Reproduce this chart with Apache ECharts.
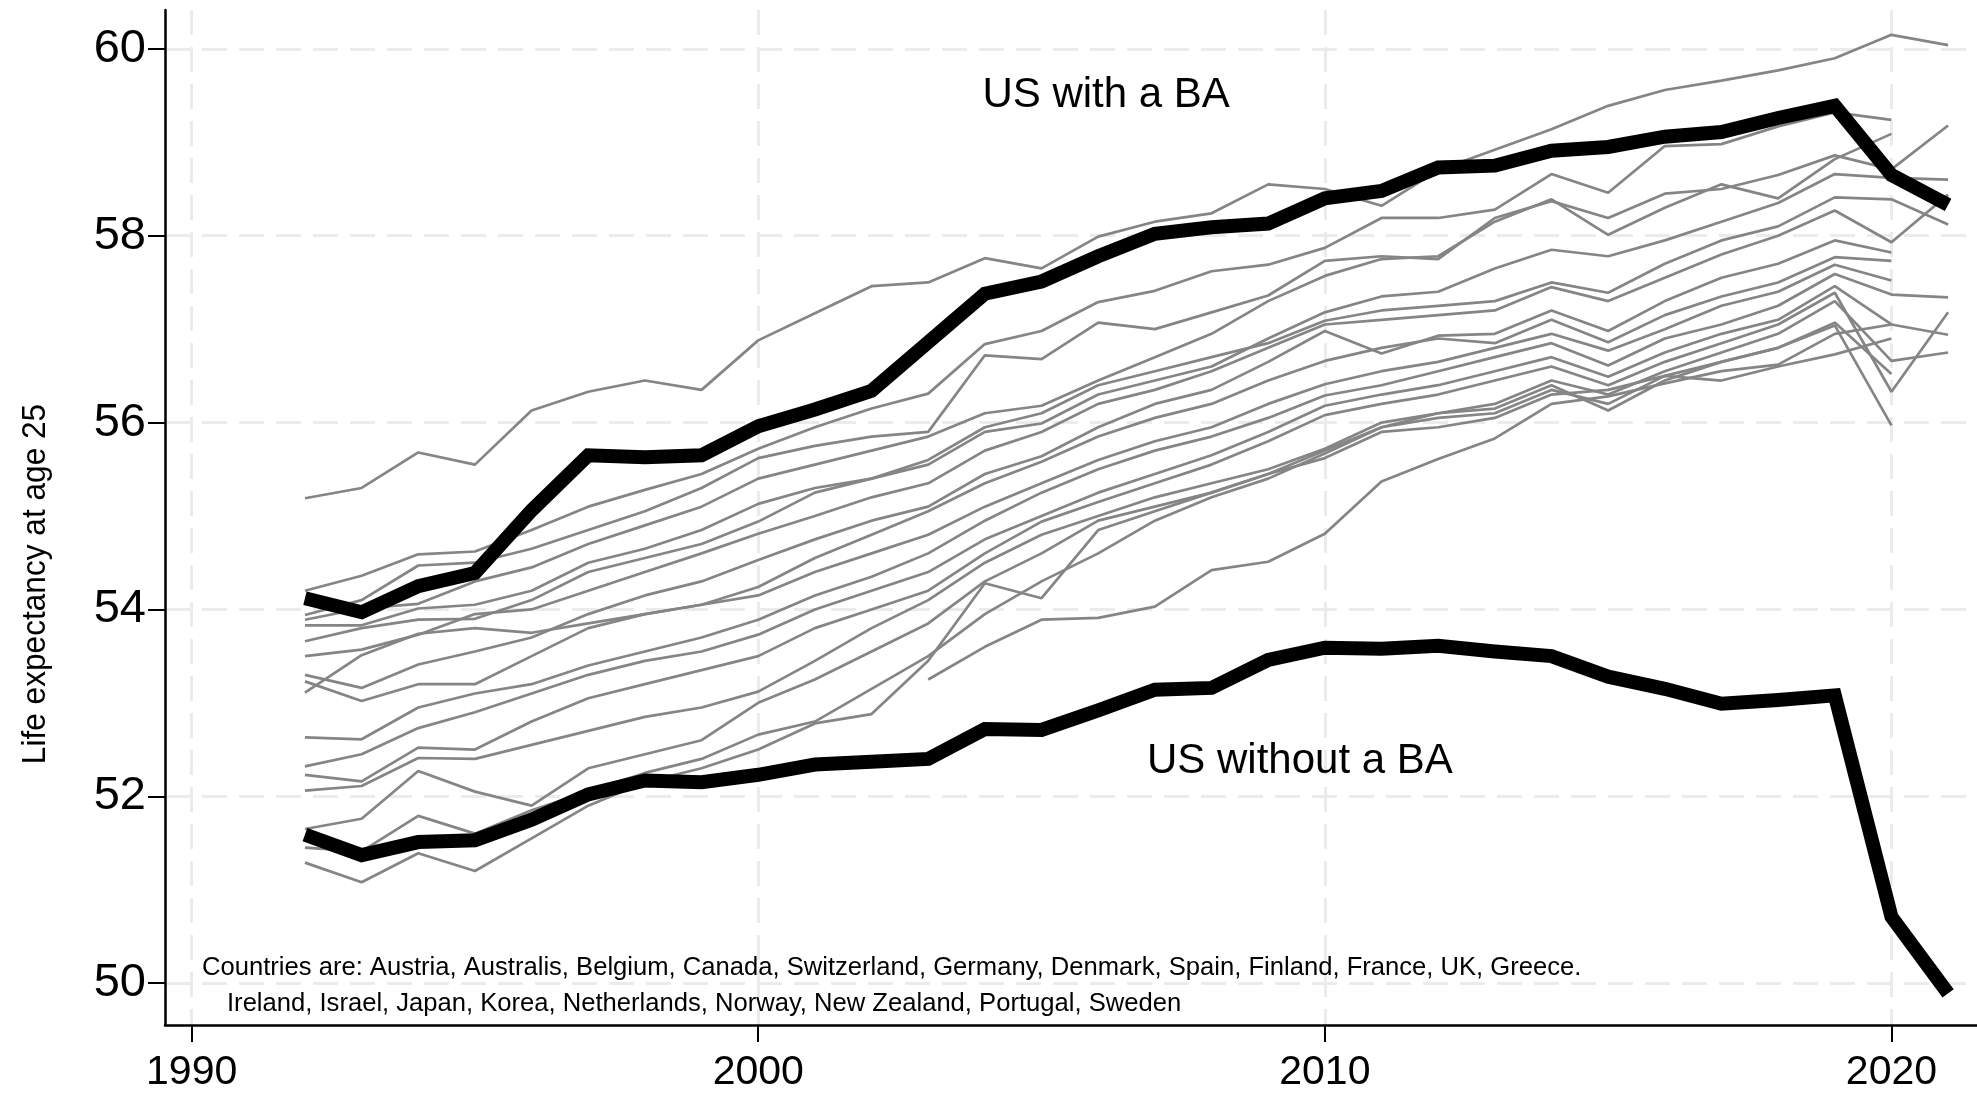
<!DOCTYPE html>
<html>
<head>
<meta charset="utf-8">
<script src="https://cdn.jsdelivr.net/npm/echarts@6/dist/echarts.min.js"></script>
<style>
html,body{margin:0;padding:0;background:#fff;}
#chart{width:1977px;height:1093px;}
</style>
</head>
<body>
<div id="chart"></div>
<script>
const years = [];
for (let y = 1992; y <= 2021; y++) years.push(y);

const xTicks = [1990, 2000, 2010, 2020];
const yTicks = [50, 52, 54, 56, 58, 60];

const usWithBA = [54.12, 53.97, 54.25, 54.39, 55.06, 55.65, 55.63, 55.65, 55.96, 56.14, 56.34, 56.86, 57.38, 57.51, 57.78, 58.02, 58.09, 58.13, 58.40, 58.48, 58.73, 58.75, 58.91, 58.95, 59.06, 59.11, 59.26, 59.39, 58.65, 58.33];
const usWithoutBA = [51.59, 51.37, 51.51, 51.53, 51.75, 52.02, 52.17, 52.15, 52.23, 52.34, 52.37, 52.40, 52.72, 52.71, 52.92, 53.14, 53.16, 53.46, 53.59, 53.58, 53.61, 53.55, 53.50, 53.28, 53.15, 52.99, 53.03, 53.08, 50.71, 49.89];

const country01 = [55.19, 55.30, 55.68, 55.55, 56.13, 56.33, 56.45, 56.35, 56.88, 57.17, 57.46, 57.50, 57.76, 57.65, 57.99, 58.15, 58.24, 58.55, 58.50, 58.32, 58.70, 58.92, 59.14, 59.39, 59.56, 59.66, 59.77, 59.90, 60.15, 60.04];
const country02 = [54.20, 54.36, 54.59, 54.62, 54.85, 55.10, 55.28, 55.45, 55.72, 55.95, 56.15, 56.31, 56.84, 56.98, 57.29, 57.41, 57.62, 57.69, 57.87, 58.19, 58.19, 58.28, 58.66, 58.46, 58.96, 58.98, 59.17, 59.32, 59.24, null];
const country03 = [53.94, 54.10, 54.47, 54.50, 54.65, 54.85, 55.05, 55.30, 55.62, 55.75, 55.85, 55.90, 56.72, 56.68, 57.07, 57.00, 57.18, 57.36, 57.73, 57.78, 57.75, 58.19, 58.37, 58.19, 58.45, 58.50, 58.65, 58.86, 58.71, 59.18];
const country04 = [53.89, 54.01, 54.06, 54.30, 54.45, 54.70, 54.90, 55.10, 55.40, 55.55, 55.70, 55.85, 56.10, 56.18, 56.45, 56.70, 56.95, 57.30, 57.57, 57.75, 57.78, 58.15, 58.39, 58.01, 58.30, 58.55, 58.40, 58.82, 59.09, null];
const country05 = [53.83, 53.83, 54.01, 54.05, 54.20, 54.50, 54.65, 54.85, 55.13, 55.30, 55.40, 55.55, 55.90, 55.99, 56.30, 56.45, 56.60, 56.90, 57.18, 57.35, 57.40, 57.65, 57.85, 57.78, 57.95, 58.15, 58.35, 58.66, 58.62, 58.60];
const country06 = [53.66, 53.80, 53.89, 53.90, 54.10, 54.40, 54.55, 54.70, 54.94, 55.25, 55.40, 55.60, 55.95, 56.10, 56.40, 56.55, 56.70, 56.85, 57.09, 57.20, 57.25, 57.30, 57.50, 57.39, 57.70, 57.95, 58.10, 58.41, 58.39, 58.12];
const country07 = [53.50, 53.57, 53.73, 53.95, 54.00, 54.20, 54.40, 54.60, 54.81, 55.00, 55.20, 55.35, 55.70, 55.90, 56.20, 56.35, 56.55, 56.80, 57.05, 57.10, 57.15, 57.20, 57.45, 57.30, 57.55, 57.80, 58.00, 58.27, 57.93, 58.44];
const country08 = [53.30, 53.16, 53.41, 53.55, 53.70, 53.95, 54.15, 54.30, 54.53, 54.75, 54.95, 55.10, 55.45, 55.64, 55.95, 56.20, 56.35, 56.65, 56.98, 56.74, 56.93, 56.95, 57.20, 56.98, 57.30, 57.55, 57.70, 57.95, 57.82, null];
const country09 = [53.23, 53.02, 53.20, 53.20, 53.50, 53.80, 53.95, 54.05, 54.24, 54.55, 54.80, 55.05, 55.35, 55.58, 55.85, 56.05, 56.20, 56.45, 56.66, 56.80, 56.90, 56.85, 57.10, 56.86, 57.15, 57.35, 57.50, 57.77, 57.73, null];
const country10 = [53.11, 53.51, 53.74, 53.80, 53.75, 53.85, 53.95, 54.05, 54.15, 54.40, 54.60, 54.80, 55.10, 55.35, 55.60, 55.80, 55.95, 56.20, 56.41, 56.55, 56.65, 56.80, 56.95, 56.77, 57.00, 57.25, 57.40, 57.69, 57.52, null];
const country11 = [52.63, 52.61, 52.95, 53.10, 53.20, 53.40, 53.55, 53.70, 53.89, 54.15, 54.35, 54.60, 54.95, 55.25, 55.50, 55.70, 55.85, 56.05, 56.29, 56.40, 56.55, 56.70, 56.85, 56.61, 56.90, 57.05, 57.25, 57.59, 57.37, 57.34];
const country12 = [52.32, 52.45, 52.73, 52.90, 53.10, 53.30, 53.45, 53.55, 53.73, 54.00, 54.20, 54.40, 54.75, 55.00, 55.25, 55.45, 55.65, 55.90, 56.18, 56.30, 56.40, 56.55, 56.70, 56.49, 56.75, 56.95, 57.10, 57.46, 57.05, 56.94];
const country13 = [52.23, 52.16, 52.52, 52.50, 52.80, 53.05, 53.20, 53.35, 53.50, 53.80, 54.00, 54.20, 54.60, 54.94, 55.15, 55.35, 55.55, 55.80, 56.08, 56.20, 56.30, 56.45, 56.60, 56.40, 56.65, 56.85, 57.05, 57.39, 56.33, 57.18];
const country14 = [52.06, 52.11, 52.41, 52.40, 52.55, 52.70, 52.85, 52.95, 53.12, 53.45, 53.80, 54.10, 54.50, 54.80, 55.00, 55.20, 55.35, 55.50, 55.72, 56.00, 56.10, 56.20, 56.45, 56.30, 56.55, 56.75, 56.95, 57.30, 56.66, 56.75];
const country15 = [51.65, 51.76, 52.27, 52.05, 51.90, 52.30, 52.45, 52.60, 53.00, 53.25, 53.55, 53.85, 54.30, 54.60, 54.95, 55.10, 55.25, 55.45, 55.70, 55.95, 56.05, 56.10, 56.35, 56.20, 56.50, 56.65, 56.80, 57.07, 56.52, null];
const country16 = [51.45, 51.41, 51.79, 51.60, 51.85, 52.05, 52.25, 52.40, 52.66, 52.80, 53.15, 53.50, 53.95, 54.30, 54.60, 54.95, 55.20, 55.40, 55.67, 55.95, 56.10, 56.15, 56.40, 56.13, 56.45, 56.65, 56.80, 57.04, 55.97, null];
const country17 = [51.29, 51.08, 51.39, 51.20, 51.55, 51.90, 52.15, 52.30, 52.50, 52.78, 52.88, 53.45, 54.28, 54.12, 54.85, 55.05, 55.25, 55.45, 55.62, 55.90, 55.95, 56.05, 56.30, 56.35, 56.50, 56.45, 56.60, 56.73, 56.90, null];
const country18 = [null, null, null, null, null, null, null, null, null, null, null, 53.25, 53.60, 53.89, 53.91, 54.03, 54.42, 54.51, 54.81, 55.37, 55.61, 55.83, 56.20, 56.28, 56.42, 56.55, 56.62, 56.95, 57.05, null];

const countries = [country01, country02, country03, country04, country05, country06, country07, country08, country09, country10, country11, country12, country13, country14, country15, country16, country17, country18];

const labelWith = 'US with a BA';
const labelWithout = 'US without a BA';
const note1 = 'Countries are: Austria, Australis, Belgium, Canada, Switzerland, Germany, Denmark, Spain, Finland, France, UK, Greece.';
const note2 = 'Ireland, Israel, Japan, Korea, Netherlands, Norway, New Zealand, Portugal, Sweden';
const yTitle = 'Life expectancy at age 25';

const FONT = '"Liberation Sans", Arial, Helvetica, sans-serif';
const pair = arr => years.map((y, i) => [y, arr[i]]);

const series = [];
countries.forEach(c => {
  series.push({
    type: 'line', data: pair(c), symbol: 'none', connectNulls: false,
    lineStyle: { color: '#858585', width: 2.7 }, z: 2, silent: true
  });
});
series.push({ type: 'line', data: pair(usWithBA), symbol: 'none', lineStyle: { color: '#000', width: 14, join: 'miter' }, z: 5, silent: true });
series.push({ type: 'line', data: pair(usWithoutBA), symbol: 'none', lineStyle: { color: '#000', width: 14, join: 'miter' }, z: 5, silent: true });

const chart = echarts.init(document.getElementById('chart'), null, { renderer: 'canvas' });
const gridLine = { show: true, lineStyle: { color: '#ebebeb', width: 3, type: [25, 12] } };
chart.setOption({
  animation: false,
  backgroundColor: '#fff',
  grid: { left: 165, right: 0, top: 10, bottom: 65, containLabel: false },
  xAxis: {
    type: 'value', min: 1989.53, max: 2021.51,
    axisLine: { show: true, onZero: false, lineStyle: { color: '#000', width: 2.5 } },
    axisTick: { show: true, length: 17, lineStyle: { color: '#000', width: 2 }, customValues: xTicks },
    axisLabel: { customValues: xTicks, fontSize: 41, color: '#000', fontFamily: FONT, margin: 27, formatter: v => String(v) },
    splitLine: gridLine
  },
  yAxis: {
    type: 'value', min: 49.552, max: 60.416,
    axisLine: { show: true, onZero: false, lineStyle: { color: '#000', width: 2.5 } },
    axisTick: { show: true, length: 17, lineStyle: { color: '#000', width: 2 }, customValues: yTicks },
    axisLabel: { customValues: yTicks, fontSize: 47, color: '#000', fontFamily: FONT, margin: 19, formatter: v => String(v) },
    splitLine: gridLine
  },
  series: series
});

const pWith = chart.convertToPixel({ gridIndex: 0 }, [2006.14, 59.5]);
const pWithout = chart.convertToPixel({ gridIndex: 0 }, [2009.56, 52.37]);
chart.setOption({
  graphic: [
    { type: 'text', x: pWith[0], y: pWith[1], style: { text: labelWith, font: '42px ' + FONT, fill: '#000', align: 'center', verticalAlign: 'middle' }, z: 10 },
    { type: 'text', x: pWithout[0], y: pWithout[1], style: { text: labelWithout, font: '42px ' + FONT, fill: '#000', align: 'center', verticalAlign: 'middle' }, z: 10 },
    { type: 'text', x: 202, y: 968, style: { text: note1, font: '25.6px ' + FONT, fill: '#000', align: 'left', verticalAlign: 'middle' }, z: 10 },
    { type: 'text', x: 227, y: 1004, style: { text: note2, font: '25.6px ' + FONT, fill: '#000', align: 'left', verticalAlign: 'middle' }, z: 10 },
    { type: 'text', x: 36, y: 584, rotation: Math.PI / 2, scaleX: 0.93, style: { text: yTitle, font: '34px ' + FONT, fill: '#000', align: 'center', verticalAlign: 'middle' }, z: 10 }
  ]
});
</script>
</body>
</html>
